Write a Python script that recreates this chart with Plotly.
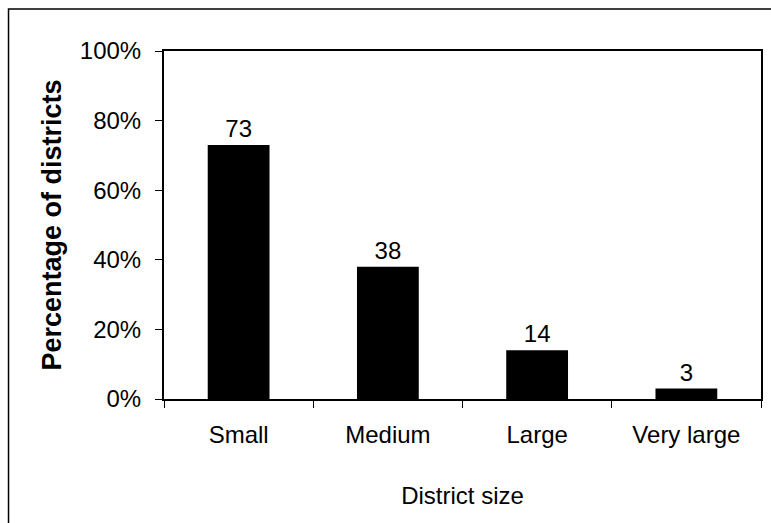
import plotly.graph_objects as go

categories = ["Small", "Medium", "Large", "Very large"]
values = [73, 38, 14, 3]
y_ticks = [0, 20, 40, 60, 80, 100]
y_tick_labels = ["0%", "20%", "40%", "60%", "80%", "100%"]

FONT = "Liberation Sans, Arial, sans-serif"

fig = go.Figure(
    go.Bar(
        x=categories,
        y=values,
        marker=dict(color="black", line=dict(width=0)),
        text=[str(v) for v in values],
        textposition="outside",
        textfont=dict(family=FONT, size=24, color="black"),
        cliponaxis=False,
        width=0.414,
        hoverinfo="skip",
    )
)

fig.update_layout(
    width=771,
    height=523,
    margin=dict(l=164, r=8, t=51, b=123.5),
    paper_bgcolor="white",
    plot_bgcolor="white",
    showlegend=False,
    font=dict(family=FONT, size=24, color="black"),
    xaxis=dict(
        showline=True, linecolor="black", linewidth=2, mirror=True,
        ticks="outside", tickson="boundaries", ticklen=7, tickwidth=1, tickcolor="black",
        showgrid=False,
        tickfont=dict(family=FONT, size=24, color="black"),
        ticklabelstandoff=13,
        title=dict(text="District size", font=dict(family=FONT, size=24, color="black"), standoff=40),
    ),
    yaxis=dict(
        range=[0, 100],
        tickvals=y_ticks, ticktext=y_tick_labels,
        showline=True, linecolor="black", linewidth=2, mirror=True,
        ticks="outside", ticklen=7, tickwidth=1, tickcolor="black",
        showgrid=False, zeroline=False,
        tickfont=dict(family=FONT, size=24, color="black"),
        ticklabelstandoff=9,
        title=dict(text="<b>Percentage of districts</b>", font=dict(family=FONT, size=27, color="black"), standoff=10),
    ),
    shapes=[
        dict(type="rect", xref="paper", yref="paper",
             x0=(8 - 164) / 599, x1=(774 - 164) / 599,
             y0=(399.5 - 527) / 348.5, y1=(399.5 - 9) / 348.5,
             line=dict(color="black", width=1.5), fillcolor="rgba(0,0,0,0)", layer="below"),
    ],
)

fig.write_html(
    "out.html",
    config={"displayModeBar": False},
    post_script="document.body.style.margin='0';document.body.style.overflow='hidden';",
)
